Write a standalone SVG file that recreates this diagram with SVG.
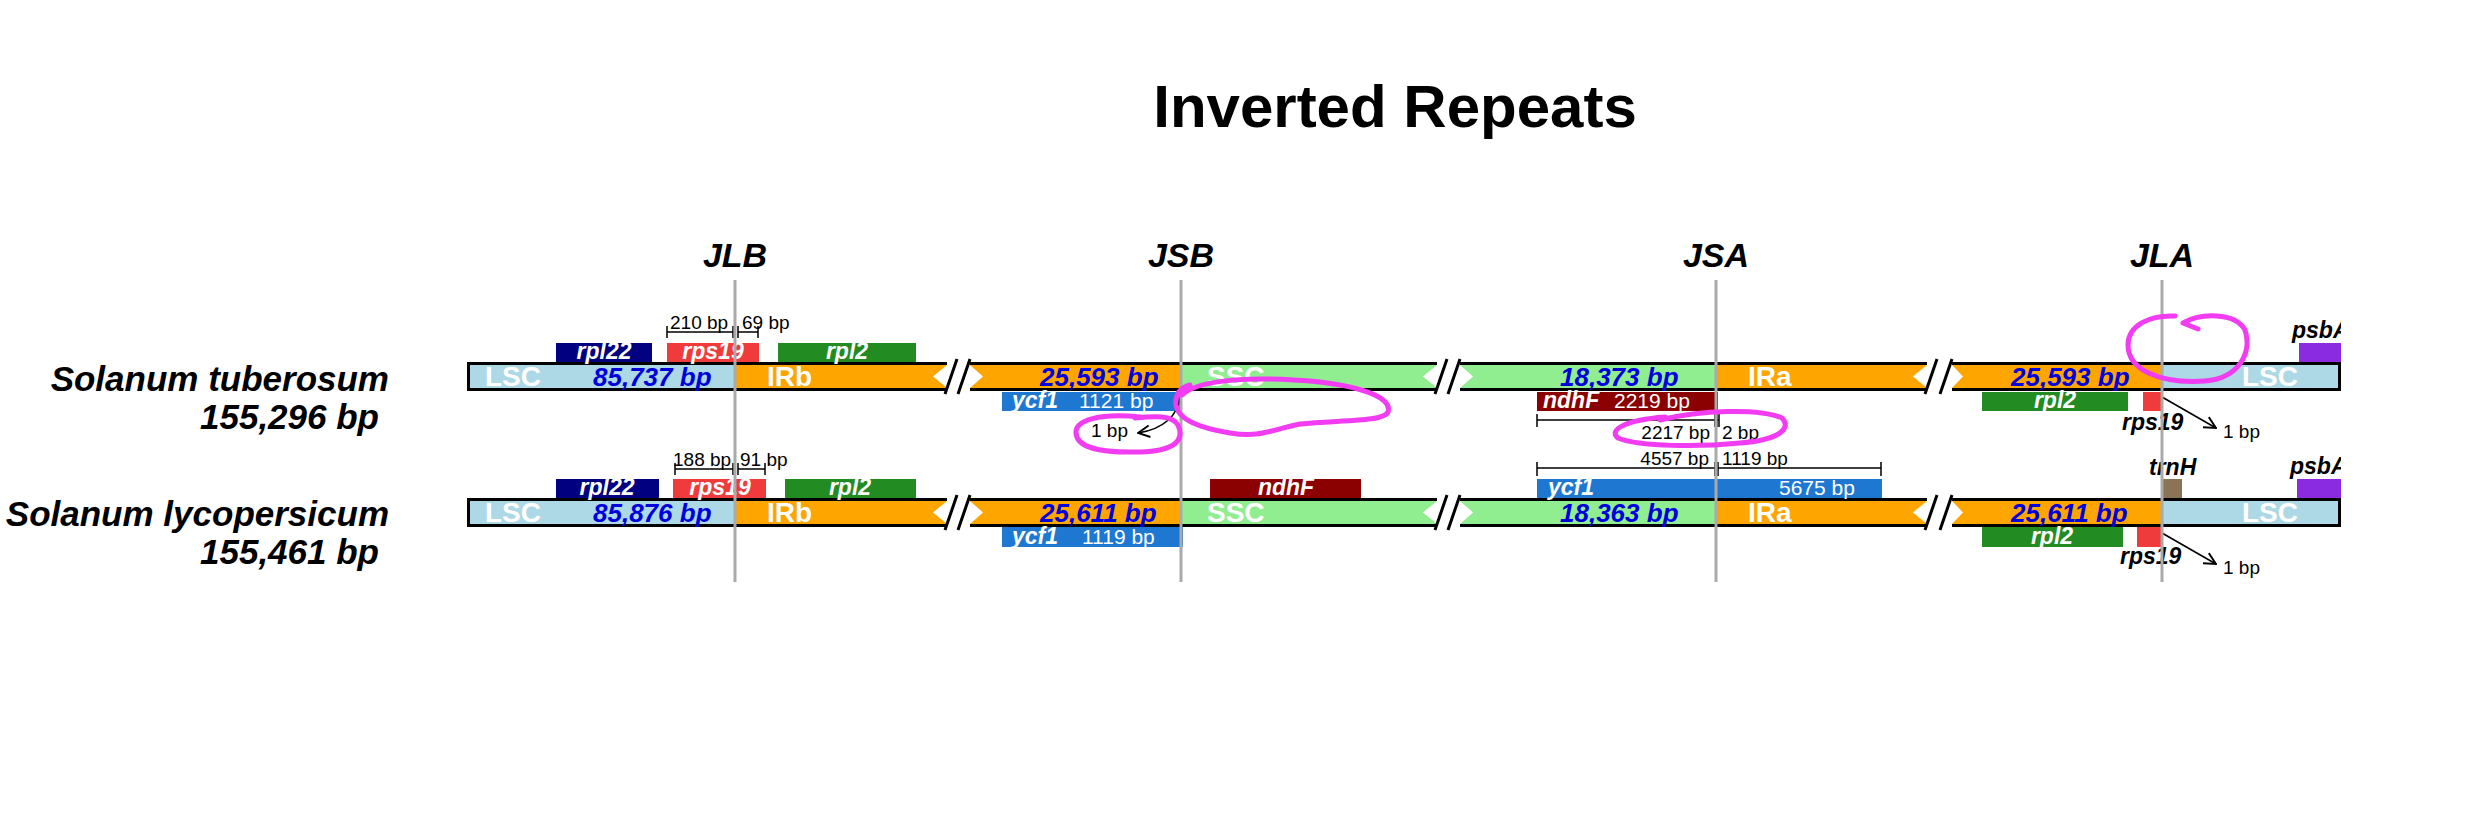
<svg xmlns="http://www.w3.org/2000/svg" xmlns:xlink="http://www.w3.org/1999/xlink" width="2490" height="830" viewBox="0 0 2490 830">
<style>
text{font-family:"Liberation Sans",Arial,Helvetica,sans-serif}
.title{font-size:60px;font-weight:bold;fill:#000}
.jn{font-size:34px;font-weight:bold;font-style:italic;fill:#000}
.sp{font-size:35px;font-weight:bold;font-style:italic;fill:#000}
.reg{font-size:28px;font-weight:bold;fill:#fff}
.num{font-size:26px;font-weight:bold;font-style:italic;fill:#0000dd}
.gene{font-size:23px;font-weight:bold;font-style:italic;fill:#fff}
.glen{font-size:21px;fill:#fff}
.glbl{font-size:23px;font-weight:bold;font-style:italic;fill:#000}
.dim{font-size:19px;fill:#000}
.bd{stroke:#000;stroke-width:3;fill:none}
.dl{stroke:#000;stroke-width:1.5;fill:none}
.jl{stroke:#aaaaaa;stroke-width:3}
.ar{stroke:#000;stroke-width:1.6;fill:none}
.anno{stroke:#f23cf2;stroke-width:5;fill:none;stroke-linecap:round;stroke-linejoin:round}
.lsc{fill:#add8e6}.ir{fill:#ffa500}.ssc{fill:#90ee90}
.navy{fill:#000080}.red{fill:#ef3b3b}.grn{fill:#228b22}.blu{fill:#1e78d2}.dred{fill:#8b0000}.brn{fill:#8b7355}.pur{fill:#8a2be2}
</style>
<defs>
<marker id="open" viewBox="0 0 12 12" refX="11" refY="6" markerWidth="14" markerHeight="14" markerUnits="userSpaceOnUse" orient="auto">
<path d="M1,1 L11,6 L1,11" stroke="#000" stroke-width="1.6" fill="none"/>
</marker>
<clipPath id="clipR"><rect x="0" y="0" width="2341" height="830"/></clipPath>
<g id="skeleton">
<rect x="467" y="363.5" width="268" height="26" class="lsc"/>
<rect x="735" y="363.5" width="212" height="26" class="ir"/>
<polygon points="933,376.5 947,365 947,388" fill="#fff"/>
<path d="M468.5,362 V391 M467,363.5 H947 M467,389.5 H947" class="bd"/>
<path d="M945,394 L957,359 M958,394 L970,359" class="bd"/>
<rect x="970" y="363.5" width="211" height="26" class="ir"/>
<rect x="1181" y="363.5" width="256" height="26" class="ssc"/>
<polygon points="970,365 983,376.5 970,388" fill="#fff"/>
<polygon points="1423,376.5 1437,365 1437,388" fill="#fff"/>
<path d="M970,363.5 H1437 M970,389.5 H1437" class="bd"/>
<path d="M1435,394 L1447,359 M1448,394 L1460,359" class="bd"/>
<rect x="1460" y="363.5" width="256" height="26" class="ssc"/>
<rect x="1716" y="363.5" width="211" height="26" class="ir"/>
<polygon points="1460,365 1473,376.5 1460,388" fill="#fff"/>
<polygon points="1913,376.5 1927,365 1927,388" fill="#fff"/>
<path d="M1460,363.5 H1927 M1460,389.5 H1927" class="bd"/>
<path d="M1925,394 L1937,359 M1940,394 L1952,359" class="bd"/>
<rect x="1952" y="363.5" width="210" height="26" class="ir"/>
<rect x="2162" y="363.5" width="179" height="26" class="lsc"/>
<polygon points="1952,365 1963,376.5 1952,388" fill="#fff"/>
<path d="M1952,363.5 H2341 M1952,389.5 H2341 M2339.5,362 V391" class="bd"/>
</g>
</defs>

<g id="title"><text x="1395" y="127" text-anchor="middle" class="title">Inverted Repeats</text></g>

<g id="junction-labels">
<text x="735" y="267" text-anchor="middle" class="jn">JLB</text>
<text x="1181" y="267" text-anchor="middle" class="jn">JSB</text>
<text x="1716" y="267" text-anchor="middle" class="jn">JSA</text>
<text x="2162" y="267" text-anchor="middle" class="jn">JLA</text>
</g>

<g id="species1">
<text x="389" y="391" text-anchor="end" class="sp">Solanum tuberosum</text>
<text x="379" y="429" text-anchor="end" class="sp">155,296 bp</text>
</g>
<g id="species2">
<text x="389" y="526" text-anchor="end" class="sp">Solanum lycopersicum</text>
<text x="379" y="564" text-anchor="end" class="sp">155,461 bp</text>
</g>

<g id="row1-bar">
<use xlink:href="#skeleton" href="#skeleton"/>
<text x="485" y="386" class="reg">LSC</text>
<text x="593" y="386" class="num">85,737 bp</text>
<text x="767" y="386" class="reg">IRb</text>
<text x="1040" y="386" class="num">25,593 bp</text>
<text x="1207" y="386" class="reg">SSC</text>
<text x="1560" y="386" class="num">18,373 bp</text>
<text x="1748" y="386" class="reg">IRa</text>
<text x="2011" y="386" class="num">25,593 bp</text>
<text x="2242" y="386" class="reg">LSC</text>
</g>
<g id="row2-bar">
<use xlink:href="#skeleton" href="#skeleton" y="136"/>
<text x="485" y="522" class="reg">LSC</text>
<text x="593" y="522" class="num">85,876 bp</text>
<text x="767" y="522" class="reg">IRb</text>
<text x="1040" y="522" class="num">25,611 bp</text>
<text x="1207" y="522" class="reg">SSC</text>
<text x="1560" y="522" class="num">18,363 bp</text>
<text x="1748" y="522" class="reg">IRa</text>
<text x="2011" y="522" class="num">25,611 bp</text>
<text x="2242" y="522" class="reg">LSC</text>
</g>

<g id="r1-rpl22"><rect x="556" y="343" width="96" height="19" class="navy"/><text x="604" y="359" text-anchor="middle" class="gene">rpl22</text></g>
<g id="r1-rps19"><rect x="667" y="343" width="92" height="19" class="red"/><text x="713" y="359" text-anchor="middle" class="gene">rps19</text></g>
<g id="r1-rpl2"><rect x="778" y="343" width="138" height="19" class="grn"/><text x="847" y="359" text-anchor="middle" class="gene">rpl2</text></g>
<g id="r1-ycf1"><rect x="1002" y="392" width="178" height="19" class="blu"/><text x="1012" y="408" class="gene">ycf1</text><text x="1079" y="408" class="glen">1121 bp</text></g>
<g id="r1-ndhF"><rect x="1537" y="392" width="181" height="19" class="dred"/><text x="1543" y="408" class="gene">ndhF</text><text x="1614" y="408" class="glen">2219 bp</text></g>
<g id="r1-rpl2b"><rect x="1982" y="392" width="146" height="19" class="grn"/><text x="2055" y="408" text-anchor="middle" class="gene">rpl2</text></g>
<g id="r1-rps19b"><rect x="2143" y="392" width="19" height="19" class="red"/><text x="2122" y="430" class="glbl">rps19</text></g>
<g id="r1-psbA"><rect x="2299" y="343" width="42" height="19" class="pur"/><text x="2292" y="338" class="glbl" clip-path="url(#clipR)">psbA</text></g>

<g id="r2-rpl22"><rect x="556" y="479" width="103" height="19" class="navy"/><text x="607" y="495" text-anchor="middle" class="gene">rpl22</text></g>
<g id="r2-rps19"><rect x="673" y="479" width="93" height="19" class="red"/><text x="720" y="495" text-anchor="middle" class="gene">rps19</text></g>
<g id="r2-rpl2"><rect x="785" y="479" width="131" height="19" class="grn"/><text x="850" y="495" text-anchor="middle" class="gene">rpl2</text></g>
<g id="r2-ycf1"><rect x="1002" y="527" width="181" height="20" class="blu"/><text x="1012" y="544" class="gene">ycf1</text><text x="1082" y="544" class="glen">1119 bp</text></g>
<g id="r2-ndhF"><rect x="1210" y="479" width="151" height="19" class="dred"/><text x="1286" y="495" text-anchor="middle" class="gene">ndhF</text></g>
<g id="r2-ycf1b"><rect x="1537" y="479" width="345" height="19" class="blu"/><text x="1548" y="495" class="gene">ycf1</text><text x="1779" y="495" class="glen">5675 bp</text></g>
<g id="r2-rpl2b"><rect x="1982" y="527" width="141" height="20" class="grn"/><text x="2052" y="544" text-anchor="middle" class="gene">rpl2</text></g>
<g id="r2-rps19b"><rect x="2137" y="527" width="25" height="20" class="red"/><text x="2120" y="564" class="glbl">rps19</text></g>
<g id="r2-trnH"><rect x="2161" y="479" width="21" height="19" class="brn"/><text x="2149" y="475" class="glbl">trnH</text></g>
<g id="r2-psbA"><rect x="2297" y="479" width="44" height="19" class="pur"/><text x="2290" y="474" class="glbl" clip-path="url(#clipR)">psbA</text></g>

<g id="connectors">
<path class="dl" d="M667,332 H733 M667,326 V338 M733,326 V338 M738,332 H758 M738,326 V338 M758,326 V338"/>
<text x="670" y="329" class="dim">210 bp</text>
<text x="742" y="329" class="dim">69 bp</text>
<path class="dl" d="M675,469 H733 M675,463 V475 M733,463 V475 M738,469 H765 M738,463 V475 M765,463 V475"/>
<text x="673" y="466" class="dim">188 bp</text>
<text x="740" y="466" class="dim">91 bp</text>
<path class="ar" d="M1180,397 C1178,415 1164,429 1138,433" marker-end="url(#open)"/>
<text x="1091" y="437" class="dim">1 bp</text>
<path class="dl" d="M1537,420 H1715 M1537,414 V427 M1715,414 V427 M1716,420 H1719 M1717,414 V427 M1719,414 V427"/>
<text x="1710" y="439" text-anchor="end" class="dim">2217 bp</text>
<text x="1722" y="439" class="dim">2 bp</text>
<path class="dl" d="M1537,468 H1715 M1537,462 V476 M1715,462 V476 M1718,468 H1881 M1718,462 V476 M1881,462 V476"/>
<text x="1709" y="465" text-anchor="end" class="dim">4557 bp</text>
<text x="1722" y="465" class="dim">1119 bp</text>
<path class="ar" d="M2162,397 L2216,428" marker-end="url(#open)"/>
<text x="2223" y="438" class="dim">1 bp</text>
<path class="ar" d="M2162,533 L2216,564" marker-end="url(#open)"/>
<text x="2223" y="574" class="dim">1 bp</text>
<line x1="735" y1="280" x2="735" y2="582" class="jl"/>
<line x1="1181" y1="280" x2="1181" y2="582" class="jl"/>
<line x1="1716" y1="280" x2="1716" y2="582" class="jl"/>
<line x1="2162" y1="280" x2="2162" y2="582" class="jl"/>
</g>

<g id="annotations">
<path class="anno" d="M1140,417 C1100,413 1075,420 1076,433 C1077,448 1100,453 1140,452 C1175,451 1185,440 1178,425 C1172,415 1155,416 1135,418"/>
<path class="anno" d="M1182,395 C1200,378 1260,376 1320,382 C1370,388 1392,400 1388,412 C1384,422 1340,420 1300,424 C1270,430 1260,438 1230,433 C1200,428 1178,420 1176,405 C1175,395 1180,388 1190,385"/>
<path class="anno" d="M1660,420 C1700,410 1760,408 1782,418 C1792,428 1780,440 1740,443 C1700,447 1640,447 1618,438 C1608,430 1625,420 1665,417"/>
<path class="anno" d="M2198,329 L2183,323 C2200,313 2235,312 2245,330 C2252,352 2240,378 2205,381 C2160,384 2128,370 2128,345 C2128,325 2150,315 2175,316"/>
</g>
</svg>
